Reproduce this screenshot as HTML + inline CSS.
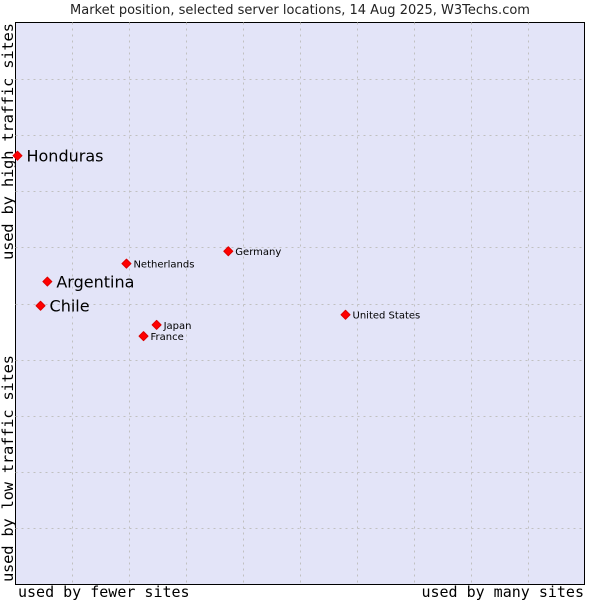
<!DOCTYPE html>
<html><head><meta charset="utf-8"><style>
body{margin:0;background:#fff;width:600px;height:600px;overflow:hidden}
svg{display:block}
</style></head><body>
<svg id="c" width="600" height="600">
<text x="300" y="14" text-anchor="middle" font-family="DejaVu Sans, sans-serif" font-size="13" fill="#222">Market position, selected server locations, 14 Aug 2025, W3Techs.com</text>
<rect x="15.5" y="22.5" width="569" height="562" fill="#e3e4f8" stroke="#000"/>
<g id="grid"></g>
<g id="pts"></g>
<text x="18" y="597" font-family="DejaVu Sans Mono, monospace" font-size="15" fill="#000">used by fewer sites</text>
<text x="584" y="597" text-anchor="end" font-family="DejaVu Sans Mono, monospace" font-size="15" fill="#000">used by many sites</text>
<text transform="translate(13,260) rotate(-90)" textLength="237" font-family="DejaVu Sans Mono, monospace" font-size="15.5" fill="#000">used by high traffic sites</text>
<text transform="translate(13,582) rotate(-90)" textLength="227" font-family="DejaVu Sans Mono, monospace" font-size="15.5" fill="#000">used by low traffic sites</text>
</svg>
<script>
const names=["Honduras","Argentina","Chile","Netherlands","Germany","Japan","France","United States"];
const xVals=[0.35,5.6,4.4,19.5,37.4,24.8,22.5,58.0];
const yVals=[76.3,53.9,49.6,57.1,59.3,46.2,44.2,48.0];
const big=[true,true,true,false,false,false,false,false];
const L=15.5,T=22.5,W=569,H=562;
const sx=v=>L+v/100*W, sy=v=>T+H-v/100*H;
const NS="http://www.w3.org/2000/svg";
const g=document.getElementById('grid');
for(let i=1;i<10;i++){
 const a=document.createElementNS(NS,'line');
 
 
 const x=Math.round(sx(i*10))+0.5;
 a.setAttribute('x1',x);a.setAttribute('x2',x);a.setAttribute('y1',T);a.setAttribute('y2',T+H);
 a.setAttribute('stroke','#c0c0c0');a.setAttribute('stroke-dasharray','2,4');g.appendChild(a);
 const b=document.createElementNS(NS,'line');
 
 
 const y=Math.round(sy(i*10))+0.5;
 b.setAttribute('y1',y);b.setAttribute('y2',y);b.setAttribute('x1',L);b.setAttribute('x2',L+W);
 b.setAttribute('stroke','#c0c0c0');b.setAttribute('stroke-dasharray','2,4');g.appendChild(b);
}
const p=document.getElementById('pts');
names.forEach((n,i)=>{
 const x=sx(xVals[i]),y=sy(yVals[i]);
 const d=document.createElementNS(NS,'path');
 
 
 d.setAttribute('d',`M${x-4.5},${y}L${x},${y-4.5}L${x+4.5},${y}L${x},${y+4.5}Z`);
 d.setAttribute('fill','#f00');d.setAttribute('stroke','#d00');d.setAttribute('stroke-width','1');d.setAttribute('stroke-linejoin','round');
 p.appendChild(d);
 const t=document.createElementNS(NS,'text');
 
 
 t.setAttribute('x',x+(big[i]?9:7));t.setAttribute('y',y+(big[i]?6:4));
 t.setAttribute('font-family','DejaVu Sans, sans-serif');
 t.setAttribute('font-size',big[i]?'16':'10');t.setAttribute('fill','#000');
 t.textContent=n;p.appendChild(t);
});
</script>
</body></html>
